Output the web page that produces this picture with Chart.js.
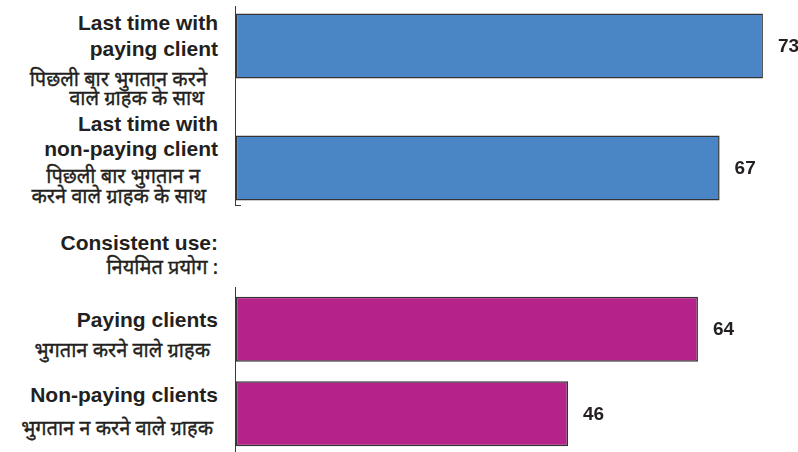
<!DOCTYPE html>
<html>
<head>
<meta charset="utf-8">
<script src="https://cdn.jsdelivr.net/npm/chart.js@4.4.1/dist/chart.umd.min.js"></script>
<style>
  html, body { margin: 0; padding: 0; background: #fff; }
  body { position: relative; width: 798px; height: 452px; overflow: hidden; }
  .box { position: absolute; }
  .en, .hi { position: absolute; white-space: nowrap; color: #231f20; text-align: right; }
  .en { font: bold 21px "Liberation Sans", Arial, sans-serif; line-height: 21px; }
  .hi { font: 20px "Noto Sans", "Noto Sans Devanagari", sans-serif; line-height: 20px; -webkit-text-stroke: 0.35px #231f20; }
  .axis { position: absolute; background: #3a3a3a; z-index: 2; }
</style>
</head>
<body>
<!-- etiquetas de categoría (inglés en negrita + hindi) -->
<div class="en" style="right:580px; top:12px;">Last time with</div>
<div class="en" style="right:580px; top:38px;">paying client</div>
<div class="hi" style="right:591px; top:69px;">पिछली बार भुगतान करने</div>
<div class="hi" style="right:594px; top:88px;">वाले ग्राहक के साथ</div>

<div class="en" style="right:580px; top:113px;">Last time with</div>
<div class="en" style="right:580px; top:138px;">non-paying client</div>
<div class="hi" style="right:598px; top:166px;">पिछली बार भुगतान न</div>
<div class="hi" style="right:592px; top:186px;">करने वाले ग्राहक के साथ</div>

<div class="en" style="right:580px; top:232px;">Consistent use:</div>
<div class="hi" style="right:580px; top:257px;">नियमित प्रयोग :</div>

<div class="en" style="right:580px; top:309px;">Paying clients</div>
<div class="hi" style="right:588px; top:340px;">भुगतान करने वाले ग्राहक</div>
<div class="en" style="right:580px; top:384px;">Non-paying clients</div>
<div class="hi" style="right:585px; top:418px;">भुगतान न करने वाले ग्राहक</div>

<!-- ejes verticales (dos tramos) -->
<div class="axis" style="left:235px; top:6px; width:1px; height:200px;"></div>
<div class="axis" style="left:235px; top:205px; width:6px; height:1px;"></div>
<div class="axis" style="left:235px; top:287px; width:1px; height:165px;"></div>

<div class="box" style="left:236px; top:-15px; width:563px; height:244px;"><canvas id="chartLastTime"></canvas></div>
<div class="box" style="left:236px; top:287px; width:563px; height:169px;"><canvas id="chartConsistent"></canvas></div>

<script>
// --- Datos ---
const catsLastTime = ['Last time with paying client', 'Last time with non-paying client'];
const valsLastTime = [73, 67];
const catsConsistent = ['Paying clients', 'Non-paying clients'];
const valsConsistent = [64, 46];
const xMax = 78;

// etiqueta de valor al final de cada barra
const valueLabels = {
  id: 'valueLabels',
  afterDatasetsDraw(chart) {
    const ctx = chart.ctx;
    ctx.save();
    ctx.font = 'bold 19px "Liberation Sans", Arial, sans-serif';
    ctx.fillStyle = '#231f20';
    ctx.textAlign = 'left';
    ctx.textBaseline = 'middle';
    chart.data.datasets.forEach((ds, i) => {
      chart.getDatasetMeta(i).data.forEach((bar, j) => {
        ctx.fillText(ds.data[j], bar.x + 15, bar.y + 1);
      });
    });
    ctx.restore();
  }
};

function barChart(id, labels, values, color, barPct) {
  return new Chart(document.getElementById(id).getContext('2d'), {
    type: 'bar',
    data: {
      labels: labels,
      datasets: [{ data: values, backgroundColor: color, borderColor: '#333', borderWidth: 1.5,
        borderSkipped: false, categoryPercentage: 1, barPercentage: barPct }]
    },
    options: {
      indexAxis: 'y',
      responsive: true, maintainAspectRatio: false, animation: false,
      layout: { padding: 0 },
      plugins: { legend: { display: false }, tooltip: { enabled: false } },
      scales: {
        x: { display: false, min: 0, max: xMax },
        y: { display: false }
      }
    },
    plugins: [valueLabels]
  });
}

barChart('chartLastTime', catsLastTime, valsLastTime, '#4a86c6', 65 / 122);
barChart('chartConsistent', catsConsistent, valsConsistent, '#b52289', 65 / 84.5);
</script>
</body>
</html>
